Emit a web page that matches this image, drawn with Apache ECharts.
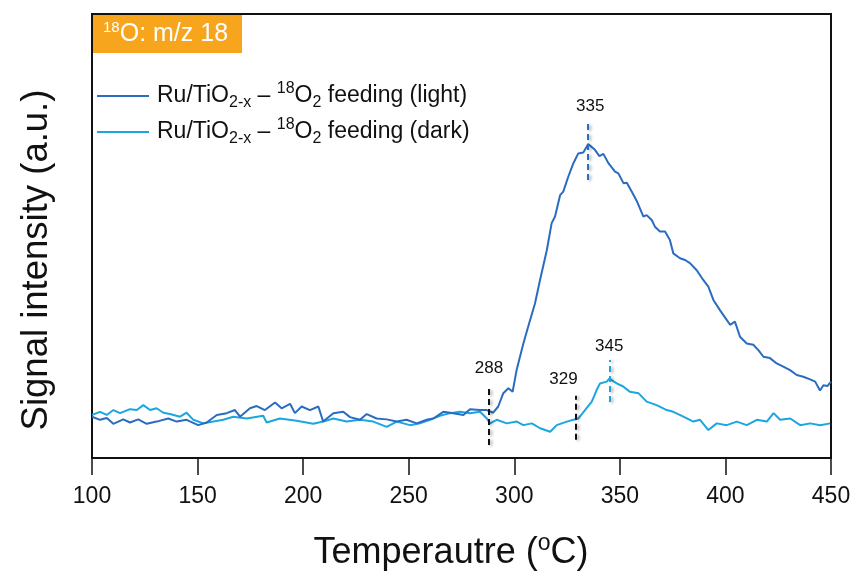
<!DOCTYPE html>
<html>
<head>
<meta charset="utf-8">
<script src="https://cdn.jsdelivr.net/npm/echarts@6/dist/echarts.min.js"></script>
<style>
  html, body { margin: 0; padding: 0; background: #fff; }
  #chart { width: 862px; height: 585px; }
</style>
</head>
<body>
<div id="chart"></div>
<script>
// Temperature-programmed signal traces (m/z 18), arbitrary intensity units
const lightTemp = [100, 103.8, 107, 110.1, 114.8, 118, 121.9, 125.9, 130.6, 136.1, 140.1, 144.8, 150.3, 154.3, 159.1, 163.8, 167.7, 170.1, 174.8, 178, 181.9, 186.7, 189.8, 193.8, 196.1, 199.3, 203.2, 207.2, 209.5, 214.3, 219, 222.2, 226.9, 230.1, 234.8, 239.6, 244.3, 249, 253.8, 258.5, 261.6, 266.4, 271.1, 275.9, 279, 283.8, 287, 290, 292.4, 294.8, 297.2, 299.2, 301.1, 304.3, 306.6, 309.8, 312.2, 315.4, 317.7, 319.3, 321.7, 323.2, 325.6, 328, 330.3, 332.7, 335, 338.2, 340.3, 342.2, 344.6, 347.7, 349.3, 351.7, 353.3, 355.6, 358, 361.1, 362.7, 365.1, 366.6, 369, 371.4, 373.7, 375.3, 378.5, 380.9, 383.2, 386.4, 389.5, 391.9, 394.3, 397.4, 400.6, 402.2, 404.5, 406.9, 410.1, 413.2, 415.6, 418, 421.1, 424.3, 427.4, 430.6, 433.8, 436.9, 440.1, 442.5, 444.8, 446.4, 448.3, 450];
const lightSignal = [9.3, 8.6, 9.0, 7.7, 8.7, 8.0, 8.7, 7.7, 8.2, 8.9, 8.2, 8.6, 7.4, 8.0, 9.7, 10.1, 10.8, 9.3, 11.2, 11.7, 10.8, 12.5, 11.2, 12.2, 10.1, 11.6, 10.8, 11.6, 8.2, 10.1, 10.4, 9.2, 8.6, 9.9, 8.9, 8.7, 8.2, 8.6, 7.8, 8.6, 8.9, 10.4, 10.1, 9.7, 11.0, 10.8, 10.8, 10.2, 11.6, 14.6, 15.7, 14.9, 19.8, 25.8, 29.6, 34.8, 40.1, 46.8, 52.9, 54.4, 59.2, 60.0, 63.4, 66.4, 68.6, 68.8, 70.7, 69.4, 68.0, 68.5, 66.4, 64.5, 64.1, 61.9, 62.0, 60.0, 57.9, 54.4, 54.7, 53.6, 52.1, 51.0, 51.0, 49.1, 46.1, 45.0, 44.6, 43.9, 42.3, 40.1, 38.6, 35.6, 33.3, 31.1, 30.0, 30.7, 27.3, 25.8, 25.5, 24.3, 22.8, 22.5, 21.3, 20.6, 19.8, 18.7, 18.3, 17.7, 17.2, 15.2, 16.4, 16.2, 17.2];

const darkTemp = [100, 103.8, 107, 110.1, 113.3, 118, 121.2, 124.3, 127.5, 130.6, 133.8, 136.9, 141.7, 144.8, 148, 152.7, 157.5, 162.2, 166.9, 173.3, 181.1, 182.7, 189, 196.9, 204.8, 209.5, 214.3, 220.6, 226.9, 233.2, 239.6, 244.3, 250.6, 255.3, 260.1, 264.8, 269.6, 274.3, 279, 283.8, 287, 288.5, 291.7, 296.4, 301.2, 304.3, 308.3, 312.2, 317, 320.1, 324.9, 328, 330.4, 333.5, 336.7, 339, 340.6, 343.8, 345, 348.5, 351.6, 354.8, 358.8, 362.7, 367.4, 372.2, 375.3, 380.1, 384.8, 388, 391.9, 395.9, 400.6, 405.4, 410.1, 414.9, 419.6, 422.8, 425.9, 430.7, 435.4, 440.1, 444.9, 449.6];
const darkSignal = [9.7, 10.4, 9.7, 10.8, 10.1, 11.0, 10.8, 11.9, 10.8, 11.2, 10.2, 9.9, 9.3, 10.2, 8.6, 7.8, 8.2, 8.6, 9.3, 8.9, 9.5, 8.0, 8.9, 8.4, 7.7, 8.2, 8.9, 8.2, 8.6, 8.2, 7.0, 8.2, 7.4, 7.8, 8.6, 9.5, 10.1, 10.4, 10.1, 10.4, 8.9, 7.8, 8.6, 7.8, 8.2, 7.4, 7.8, 6.7, 5.9, 7.4, 8.2, 8.6, 8.9, 10.8, 12.7, 15.3, 16.8, 17.2, 17.9, 16.8, 16.1, 14.9, 14.6, 12.7, 11.9, 10.8, 10.4, 9.3, 8.2, 8.6, 6.3, 7.8, 7.4, 8.2, 7.4, 8.6, 8.2, 10.1, 8.6, 8.9, 7.4, 7.8, 7.4, 7.8];

// Onset / peak temperatures and the extent of their dashed markers
const markTemps = [288, 335, 329, 345];
const markBottoms = [2.9, 62.6, 4.1, 12.6];
const markTops = [15.8, 75.5, 14.0, 22.1];

const xTicks = { min: 100, max: 450, step: 50 };
const seriesNames = ['light', 'dark'];

const FONT = '"Liberation Sans", Arial, Helvetica, sans-serif';
const COLOR_LIGHT = '#2a6cc0';
const COLOR_DARK = '#1ca6e0';
const INK = '#111';

function zip(xs, ys) { return xs.map((x, i) => [x, ys[i]]); }

function marker(i, color, labelOffset, labelDist) {
  return [
    {
      coord: [markTemps[i], markBottoms[i]],
      lineStyle: {
        color: color, type: [6, 4], width: 2,
        shadowColor: 'rgba(0,0,0,0.35)', shadowBlur: 3, shadowOffsetX: 2, shadowOffsetY: 1
      },
      label: {
        show: true, position: 'end', formatter: String(markTemps[i]),
        color: INK, fontSize: 17, fontFamily: FONT,
        distance: labelDist, offset: labelOffset
      }
    },
    { coord: [markTemps[i], markTops[i]] }
  ];
}

const richLegend = {
  n: { fontSize: 23, fontFamily: FONT, color: INK, lineHeight: 30 },
  sub: { fontSize: 16, fontFamily: FONT, color: INK, lineHeight: 13, verticalAlign: 'bottom' },
  sup: { fontSize: 16, fontFamily: FONT, color: INK, lineHeight: 16, verticalAlign: 'top' }
};

const chart = echarts.init(document.getElementById('chart'), null, { renderer: 'canvas' });
chart.setOption({
  animation: false,
  backgroundColor: '#fff',
  grid: {
    left: 92, right: 31, top: 14, bottom: 127,
    containLabel: false, outerBoundsMode: 'none',
    show: true, borderColor: INK, borderWidth: 2, backgroundColor: 'transparent'
  },
  legend: {
    orient: 'vertical', left: 92, top: 76,
    icon: 'rect', itemWidth: 52, itemHeight: 2, itemGap: 6,
    data: seriesNames,
    formatter: function (name) {
      return '{n|Ru/TiO}{sub|2-x}{n| \u2013 }{sup|18}{n|O}{sub|2}{n| feeding (' + name + ')}';
    },
    textStyle: { rich: richLegend, padding: [0, 0, 0, 3] }
  },
  xAxis: {
    type: 'value', min: xTicks.min, max: xTicks.max, interval: xTicks.step,
    axisLine: { show: true, lineStyle: { color: INK, width: 2 } },
    axisTick: { show: true, inside: false, length: 17, lineStyle: { color: INK, width: 1.5 } },
    axisLabel: { color: INK, fontSize: 23, fontFamily: FONT, margin: 27 },
    splitLine: { show: false }
  },
  yAxis: {
    type: 'value', min: 0, max: 100,
    axisLine: { show: true, lineStyle: { color: INK, width: 2 } },
    axisTick: { show: false }, axisLabel: { show: false }, splitLine: { show: false }
  },
  graphic: [
    { type: 'rect', left: 93, top: 15, shape: { width: 149, height: 38 }, style: { fill: '#f7a51c' }, z: 10 },
    {
      type: 'text', x: 103, y: 34, z: 11,
      style: {
        text: '{sup|18}{n|O: m/z 18}', verticalAlign: 'middle',
        rich: {
          n: { fontSize: 25, fontFamily: FONT, fill: '#fff', lineHeight: 28 },
          sup: { fontSize: 15, fontFamily: FONT, fill: '#fff', lineHeight: 17, verticalAlign: 'top' }
        }
      }
    },
    {
      type: 'text', x: 37, y: 260, rotation: Math.PI / 2, z: 5,
      style: {
        text: 'Signal intensity (a.u.)', align: 'center', verticalAlign: 'middle',
        fontSize: 36.5, fontFamily: FONT, fill: INK
      }
    },
    {
      type: 'text', x: 451, y: 553, z: 5,
      style: {
        text: '{n|Temperautre (}{sup|o}{n|C)}', align: 'center', verticalAlign: 'middle',
        rich: {
          n: { fontSize: 36, fontFamily: FONT, fill: INK, lineHeight: 42 },
          sup: { fontSize: 23, fontFamily: FONT, fill: INK, lineHeight: 30, verticalAlign: 'top' }
        }
      }
    }
  ],
  series: [
    {
      name: 'light', type: 'line', data: zip(lightTemp, lightSignal),
      showSymbol: false, symbol: 'none', smooth: false,
      lineStyle: { color: COLOR_LIGHT, width: 2 }, itemStyle: { color: COLOR_LIGHT }, z: 3,
      markLine: {
        silent: true, symbol: ['none', 'none'], animation: false,
        data: [marker(0, INK, [0, 0], 11), marker(1, COLOR_LIGHT, [2, 0], 8)]
      }
    },
    {
      name: 'dark', type: 'line', data: zip(darkTemp, darkSignal),
      showSymbol: false, symbol: 'none', smooth: false,
      lineStyle: { color: COLOR_DARK, width: 2 }, itemStyle: { color: COLOR_DARK }, z: 2,
      markLine: {
        silent: true, symbol: ['none', 'none'], animation: false,
        data: [marker(2, INK, [-12, 0], 8), marker(3, COLOR_DARK, [0, 0], 5)]
      }
    }
  ]
});
</script>
</body>
</html>
